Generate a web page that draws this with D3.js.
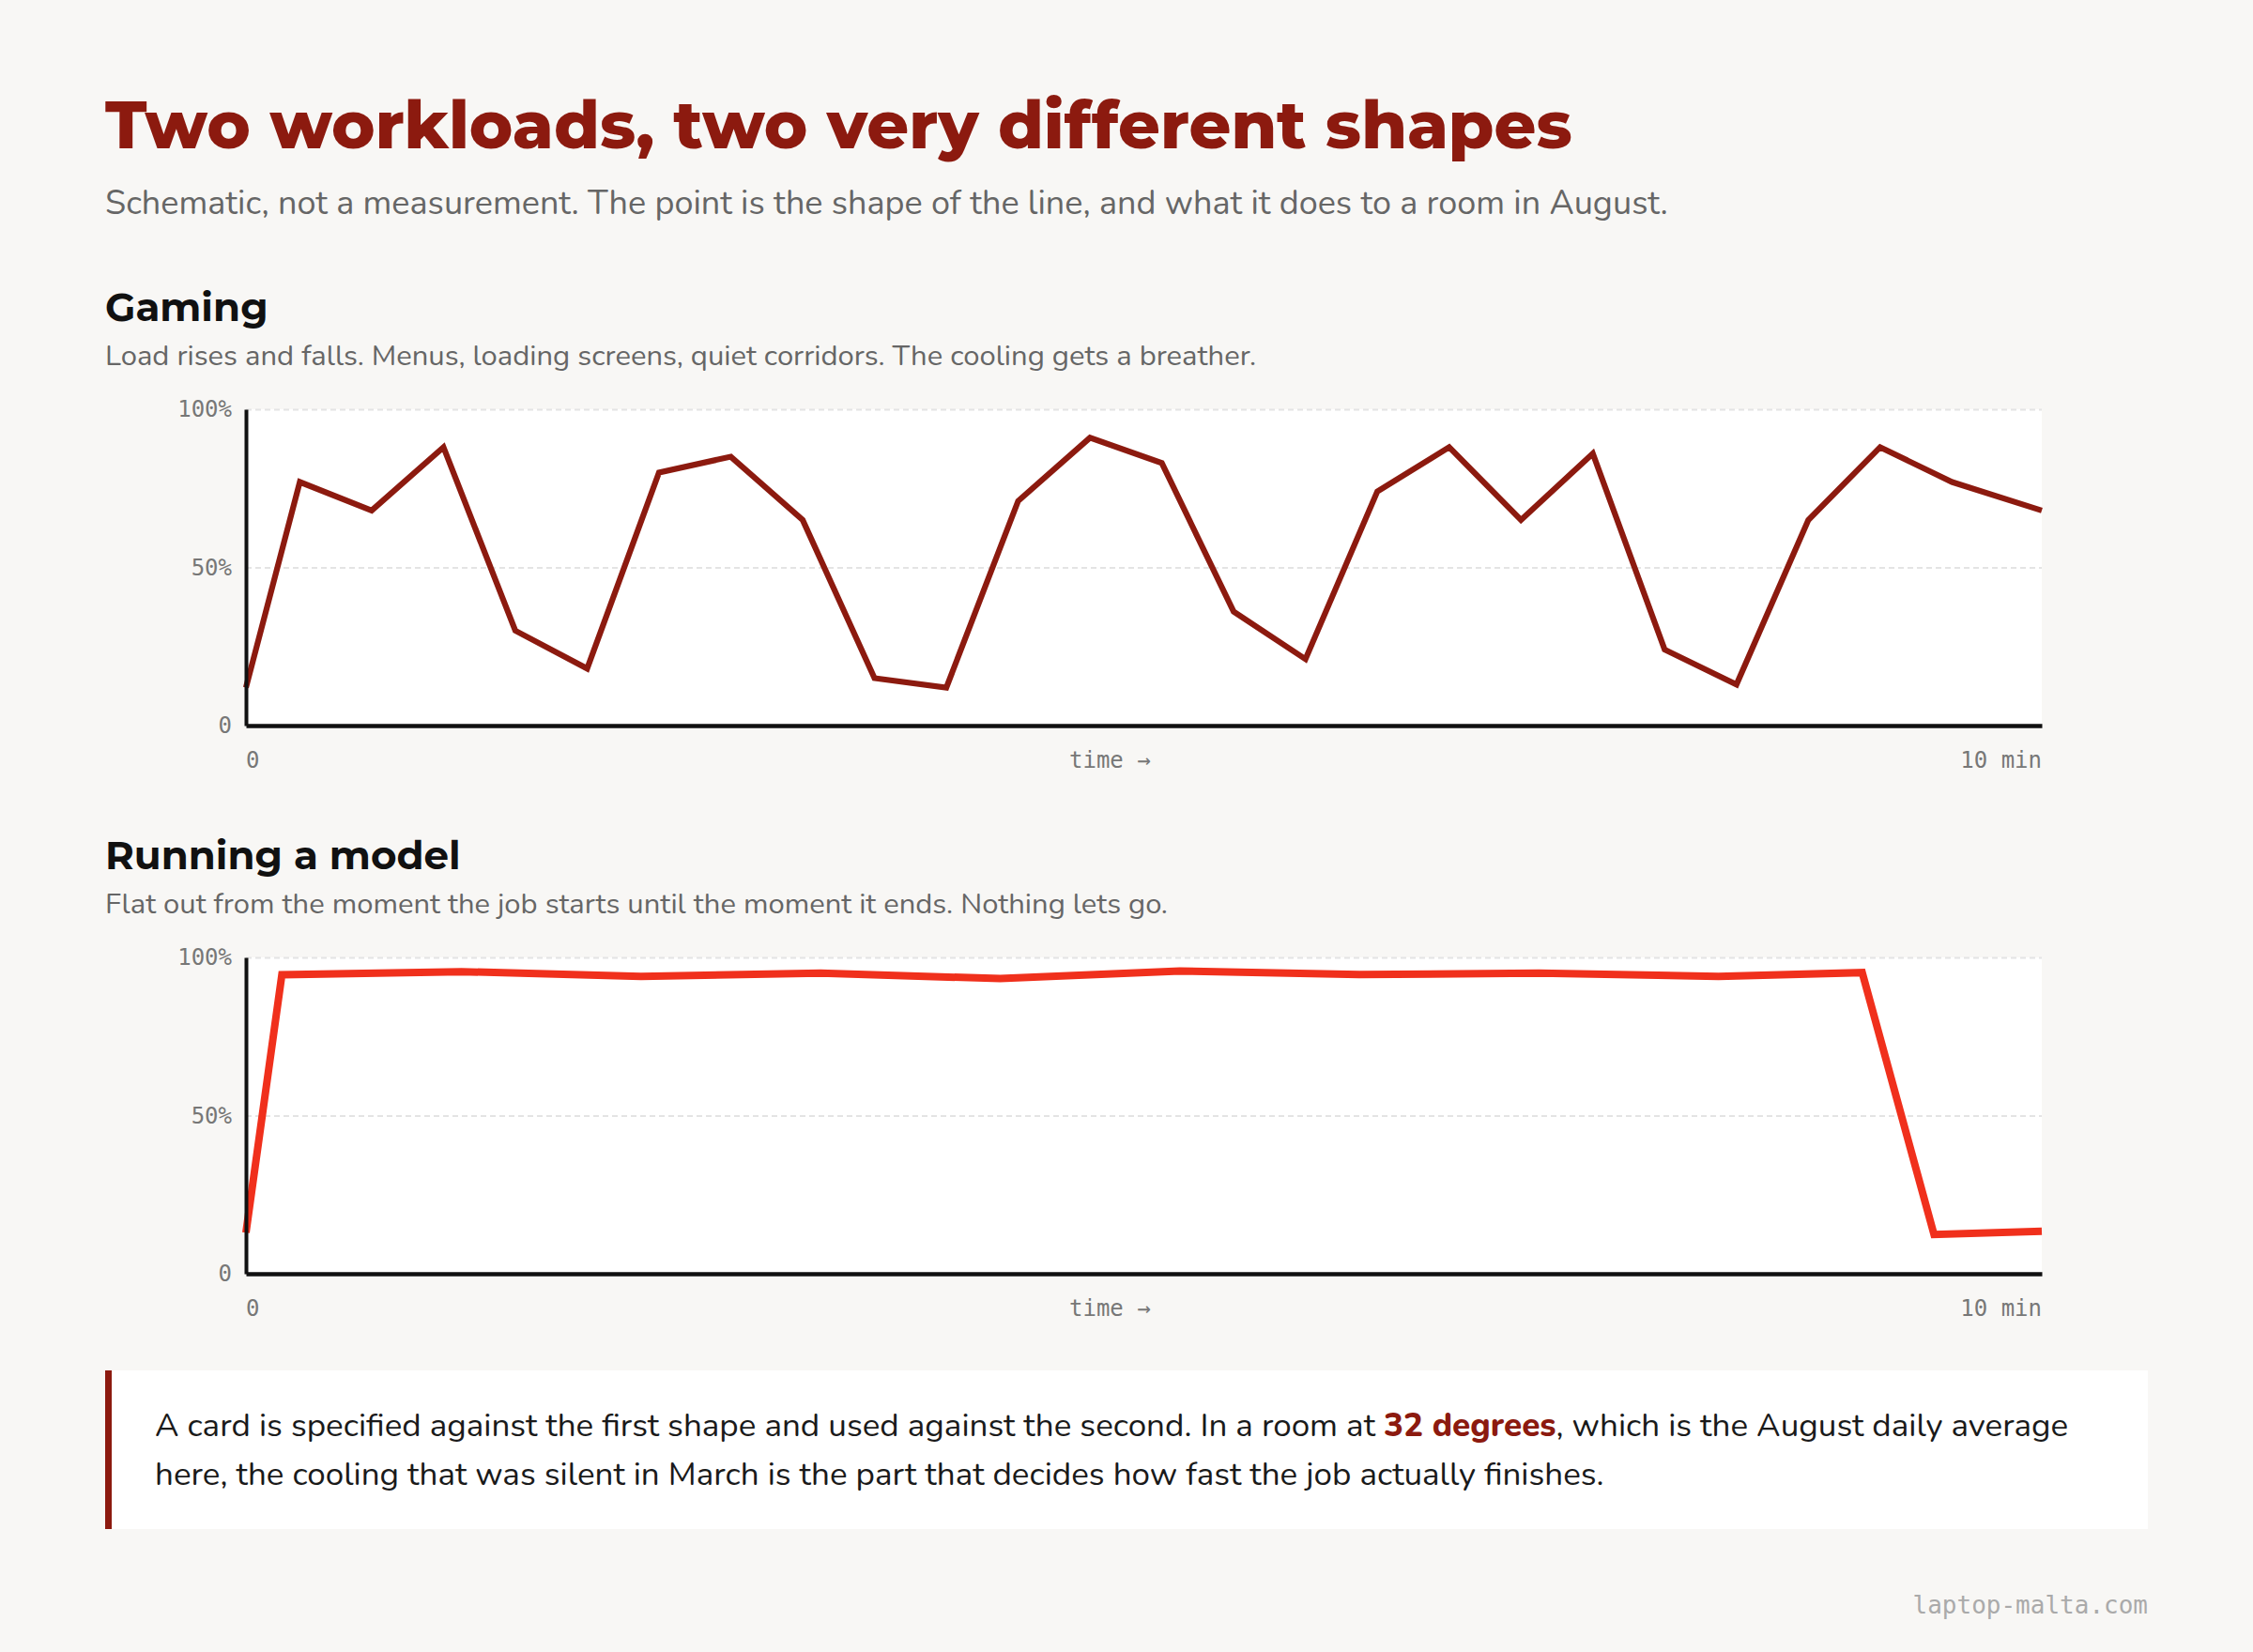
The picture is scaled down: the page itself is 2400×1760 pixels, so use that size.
<!DOCTYPE html>
<html>
<head>
<meta charset="utf-8">
<script src="https://cdn.jsdelivr.net/npm/d3@7"></script>
<style>
  body { margin: 0; background: #f8f7f5; }
  svg { display: block; }
</style>
</head>
<body>
<svg id="chart"></svg>
<script>
// minutes into the session / GPU load in %
const gamingTimes = [0, 0.3, 0.7, 1.1, 1.5, 1.9, 2.3, 2.7, 3.1, 3.5, 3.9, 4.3, 4.7, 5.1, 5.5, 5.9, 6.3, 6.7, 7.1, 7.5, 7.9, 8.3, 8.7, 9.1, 9.5, 10];
const gamingLoad = [12, 77, 68, 88, 30, 18, 80, 85, 65, 15, 12, 71, 91, 83, 36, 21, 74, 88, 65, 86, 24, 13, 65, 88, 77, 68];

const modelTimes = [0, 0.2, 1.2, 2.2, 3.2, 4.2, 5.2, 6.2, 7.2, 8.2, 9.0, 9.4, 10];
const modelLoad = [13, 94.5, 95.5, 94, 95, 93.3, 95.7, 94.6, 95, 94, 95.2, 12.4, 13.4];

const yTicks = [0, 50, 100];
const yTickLabels = ["0", "50%", "100%"];
const xLabels = ["0", "time \u2192", "10 min"];

const W = 2400, H = 1760;
const left = 112, right = 2288;
const plotLeft = 262, plotRight = 2175, plotH = 337;

const DARK = "#8c1a0f", BRIGHT = "#f0301c";
const HEAD = "Montserrat, Inter, 'DejaVu Sans', sans-serif";
const BODY = "Nunito, 'Noto Sans', 'Open Sans', sans-serif";
const MONO = "'DejaVu Sans Mono', 'Liberation Mono', monospace";

const svg = d3.select("#chart").attr("width", W).attr("height", H);

svg.append("rect").attr("width", W).attr("height", H).attr("fill", "#f8f7f5");

svg.append("text")
    .attr("x", left).attr("y", 158)
    .attr("font-family", HEAD).attr("font-weight", 800).attr("font-size", 70)
    .attr("fill", DARK)
    .text("Two workloads, two very different shapes");

svg.append("text")
    .attr("x", left).attr("y", 228)
    .attr("font-family", BODY).attr("font-size", 36)
    .attr("fill", "#666")
    .text("Schematic, not a measurement. The point is the shape of the line, and what it does to a room in August.");

function panel(top, title, desc, times, load, color, lineWidth) {
    const g = svg.append("g");
    const plotTop = top + 94;
    const plotBottom = plotTop + plotH;

    g.append("text")
        .attr("x", left).attr("y", top)
        .attr("font-family", HEAD).attr("font-weight", 700).attr("font-size", 42)
        .attr("fill", "#111")
        .text(title);

    g.append("text")
        .attr("x", left).attr("y", top + 47)
        .attr("font-family", BODY).attr("font-size", 31)
        .attr("fill", "#666")
        .text(desc);

    const x = d3.scaleLinear().domain([0, 10]).range([plotLeft, plotRight]);
    const y = d3.scaleLinear().domain([0, 100]).range([plotBottom, plotTop]);

    g.append("rect")
        .attr("x", plotLeft).attr("y", plotTop)
        .attr("width", plotRight - plotLeft).attr("height", plotH)
        .attr("fill", "#fff");

    const grid = g.append("g")
        .attr("transform", `translate(${plotLeft},0)`)
        .call(d3.axisLeft(y).tickValues([50, 100]).tickSize(-(plotRight - plotLeft)).tickFormat(""));
    grid.select(".domain").remove();
    grid.selectAll("line")
        .attr("stroke", "#e4e4e4").attr("stroke-width", 2).attr("stroke-dasharray", "6,4");

    const data = times.map((t, i) => ({ t: t, v: load[i] }));
    g.append("path")
        .datum(data)
        .attr("fill", "none")
        .attr("stroke", color)
        .attr("stroke-width", lineWidth)
        .attr("d", d3.line().x(d => x(d.t)).y(d => y(d.v)));

    const yAxis = g.append("g")
        .attr("transform", `translate(${plotLeft},0)`)
        .call(d3.axisLeft(y).tickValues(yTicks).tickSize(0).tickPadding(15)
            .tickFormat((d, i) => yTickLabels[i]));
    yAxis.select(".domain").attr("stroke", "#111").attr("stroke-width", 4);
    yAxis.selectAll("text")
        .attr("font-family", MONO).attr("font-size", 24).attr("fill", "#777");

    const xAxis = g.append("g")
        .attr("transform", `translate(0,${plotBottom})`)
        .call(d3.axisBottom(x).tickValues([]).tickSizeOuter(0));
    xAxis.select(".domain").attr("stroke", "#111").attr("stroke-width", 4.5);

    // labels sit like a space-between row under the axis
    const lab = g.append("g").attr("font-family", MONO).attr("font-size", 24).attr("fill", "#777");
    const l0 = lab.append("text").attr("x", x(0)).attr("y", plotBottom + 45).text(xLabels[0]);
    const l2 = lab.append("text").attr("x", x(10)).attr("y", plotBottom + 45)
        .attr("text-anchor", "end").text(xLabels[2]);
    const l1 = lab.append("text").attr("y", plotBottom + 45).attr("text-anchor", "middle").text(xLabels[1]);
    const a = x(0) + l0.node().getComputedTextLength();
    const b = x(10) - l2.node().getComputedTextLength();
    l1.attr("x", (a + b) / 2);
}

panel(342, "Gaming",
    "Load rises and falls. Menus, loading screens, quiet corridors. The cooling gets a breather.",
    gamingTimes, gamingLoad, DARK, 6.2);

panel(926, "Running a model",
    "Flat out from the moment the job starts until the moment it ends. Nothing lets go.",
    modelTimes, modelLoad, BRIGHT, 8);

// callout
const note = svg.append("g");
note.append("rect")
    .attr("x", left).attr("y", 1460).attr("width", right - left).attr("height", 169)
    .attr("fill", "#fff");
note.append("rect")
    .attr("x", left).attr("y", 1460).attr("width", 7).attr("height", 169)
    .attr("fill", DARK);

const t1 = note.append("text")
    .attr("x", 165).attr("y", 1530)
    .attr("font-family", BODY).attr("font-size", 35).attr("fill", "#1a1a1a");
t1.append("tspan").text("A card is specified against the first shape and used against the second. In a room at ");
t1.append("tspan").attr("font-weight", 800).attr("fill", DARK).text("32 degrees");
t1.append("tspan").text(", which is the August daily average");
note.append("text")
    .attr("x", 165).attr("y", 1582)
    .attr("font-family", BODY).attr("font-size", 35).attr("fill", "#1a1a1a")
    .text("here, the cooling that was silent in March is the part that decides how fast the job actually finishes.");

svg.append("text")
    .attr("x", right).attr("y", 1719)
    .attr("text-anchor", "end")
    .attr("font-family", MONO).attr("font-size", 26).attr("fill", "#aaa")
    .text("laptop-malta.com");
</script>
</body>
</html>
